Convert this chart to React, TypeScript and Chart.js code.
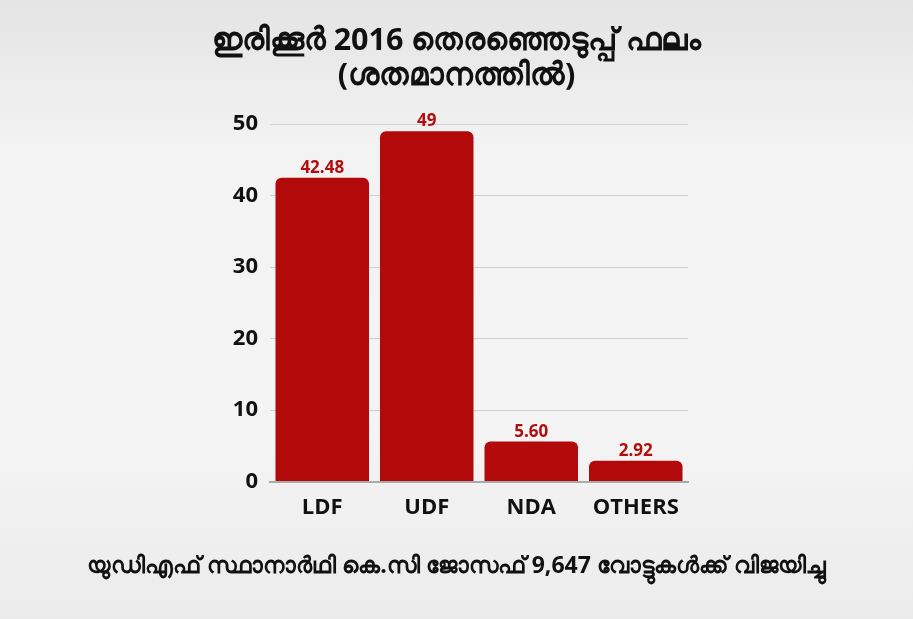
import React, { useEffect, useRef } from "react";
import { Chart, registerables } from "chart.js";

Chart.register(...registerables);

const categories = ["LDF", "UDF", "NDA", "OTHERS"];
const values = [42.48, 49, 5.6, 2.92];
const valueLabels = ["42.48", "49", "5.60", "2.92"];
const titleLines = ["ഇരിക്കൂർ 2016 തെരഞ്ഞെടുപ്പ് ഫലം", "(ശതമാനത്തിൽ)"];
const footerText = "യുഡിഎഫ് സ്ഥാനാർഥി കെ.സി ജോസഫ് 9,647 വോട്ടുകൾക്ക് വിജയിച്ചു";

const FONT = "'Open Sans', 'Noto Sans', sans-serif";

const labelPlugin = {
  id: "valueLabels",
  afterDatasetsDraw(chart: any) {
    const ctx = chart.ctx;
    const meta = chart.getDatasetMeta(0);
    ctx.save();
    ctx.fillStyle = "#b30d0d";
    ctx.font = `bold 17px ${FONT}`;
    ctx.textAlign = "center";
    ctx.textBaseline = "bottom";
    meta.data.forEach((bar: any, i: number) => {
      ctx.fillText(valueLabels[i], bar.x, bar.y - 1);
    });
    ctx.restore();
  },
};

const textPlugin = {
  id: "texts",
  afterDraw(chart: any) {
    const ctx = chart.ctx;
    const cx = chart.width / 2;
    ctx.save();
    ctx.fillStyle = "#111";
    ctx.textAlign = "center";
    ctx.textBaseline = "middle";
    ctx.font = `bold 30.5px ${FONT}`;
    ctx.fillText(titleLines[0], cx, 41);
    ctx.fillText(titleLines[1], cx, 76);
    ctx.font = `bold 23px ${FONT}`;
    ctx.fillText(footerText, cx, 566);
    ctx.restore();
  },
};

const bgPlugin = {
  id: "bg",
  beforeDraw(chart: any) {
    const { ctx, width, height } = chart;
    ctx.save();
    const g = ctx.createLinearGradient(0, 0, 0, height);
    g.addColorStop(0, "#e4e4e4");
    g.addColorStop(0.25, "#f3f3f3");
    g.addColorStop(0.7, "#f4f4f4");
    g.addColorStop(1, "#ebebeb");
    ctx.fillStyle = g;
    ctx.fillRect(0, 0, width, height);
    ctx.restore();
  },
};

export default function App() {
  const ref = useRef<HTMLCanvasElement>(null);
  useEffect(() => {
    document.body.style.margin = "0";
    const chart = new Chart(ref.current!, {
      type: "bar",
      data: {
        labels: categories,
        datasets: [
          {
            data: values,
            backgroundColor: "#b20a0a",
            borderRadius: { topLeft: 6, topRight: 6, bottomLeft: 0, bottomRight: 0 },
            borderSkipped: "bottom",
            barPercentage: 0.895,
            categoryPercentage: 1,
          },
        ],
      },
      options: {
        animation: false,
        responsive: false,
        layout: { padding: { left: 0, right: 225, top: 124, bottom: 85 } },
        plugins: {
          legend: { display: false },
          tooltip: { enabled: false },
        },
        scales: {
          x: {
            grid: { display: false, drawTicks: false },
            border: { display: true, color: "#aaaaaa", width: 2 },
            ticks: {
              color: "#111",
              font: { family: FONT, size: 22, weight: "bold" },
              padding: 13,
            },
          },
          y: {
            min: 0,
            max: 50,
            afterFit(scale: any) {
              scale.width = 270;
            },
            grid: { color: "#cfcfcf", drawTicks: false, lineWidth: 1 },
            border: { display: false },
            ticks: {
              stepSize: 10,
              color: "#111",
              font: { family: FONT, size: 22, weight: "bold" },
              padding: 12,
            },
          },
        },
      },
      plugins: [bgPlugin, labelPlugin, textPlugin],
    });
    return () => chart.destroy();
  }, []);
  return <canvas ref={ref} width={913} height={619} style={{ display: "block" }} />;
}
